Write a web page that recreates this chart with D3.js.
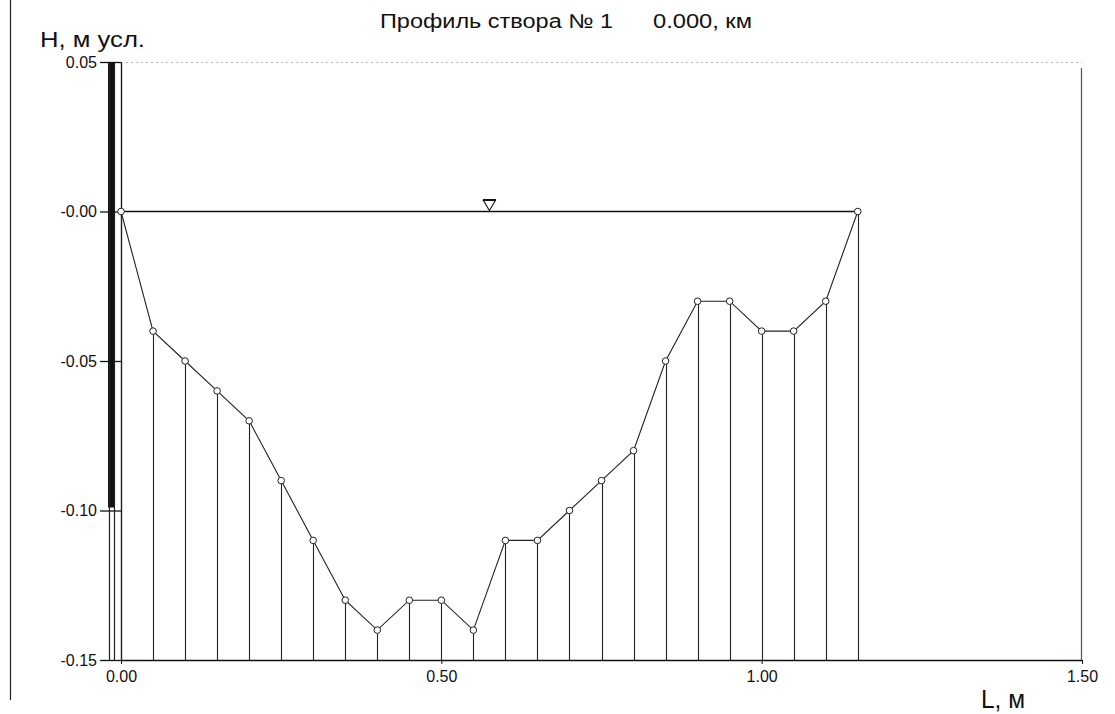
<!DOCTYPE html>
<html>
<head>
<meta charset="utf-8">
<script src="https://cdn.jsdelivr.net/npm/d3@7"></script>
<style>
  html, body { margin: 0; padding: 0; background: #fff; }
  svg { display: block; }
  text { font-family: "Liberation Sans", Arial, sans-serif; fill: #111; }
</style>
</head>
<body>
<svg id="chart" width="1115" height="714"></svg>
<script>
// Cross-section survey: distance along the section (m) and bed elevation (m, relative)
const distances = [0.00, 0.05, 0.10, 0.15, 0.20, 0.25, 0.30, 0.35, 0.40, 0.45, 0.50, 0.55,
                   0.60, 0.65, 0.70, 0.75, 0.80, 0.85, 0.90, 0.95, 1.00, 1.05, 1.10, 1.15];
const elevations = [0.00, -0.04, -0.05, -0.06, -0.07, -0.09, -0.11, -0.13, -0.14, -0.13, -0.13, -0.14,
                    -0.11, -0.11, -0.10, -0.09, -0.08, -0.05, -0.03, -0.03, -0.04, -0.04, -0.03, 0.00];
const waterLevel = 0.00;

const yTickValues = [0.05, 0.00, -0.05, -0.10, -0.15];
const yTickLabels = ["0.05", "-0.00", "-0.05", "-0.10", "-0.15"];
const xTickValues = [0.00, 0.50, 1.00, 1.50];
const xTickLabels = ["0.00", "0.50", "1.00", "1.50"];

const titleMain = "Профиль створа  № 1";
const titleKm = "0.000, км";
const yTitle = "Н, м усл.";
const xTitle = "L, м";

const svg = d3.select("#chart");
const plotLeft = 121, plotRight = 1082, plotTop = 62, plotBottom = 660;

const x = d3.scaleLinear().domain([0, 1.5]).range([plotLeft, plotRight]);
const y = d3.scaleLinear().domain([-0.15, 0.05]).range([plotBottom, plotTop]);

// page frame line on the left
svg.append("line").attr("x1", 10.5).attr("x2", 10.5).attr("y1", 0).attr("y2", 700)
  .attr("stroke", "#222").attr("stroke-width", 1.2);

// faint dotted top border of the plot
svg.append("line").attr("x1", plotLeft).attr("x2", plotRight)
  .attr("y1", plotTop + 0.5).attr("y2", plotTop + 0.5)
  .attr("stroke", "#bbb").attr("stroke-width", 1).attr("stroke-dasharray", "2,3");

// right border
svg.append("line").attr("x1", plotRight - 0.5).attr("x2", plotRight - 0.5)
  .attr("y1", plotTop + 6).attr("y2", plotBottom)
  .attr("stroke", "#555").attr("stroke-width", 1.2);

// left bank marker: heavy bar with thin legs
svg.append("rect").attr("x", plotLeft - 13).attr("y", plotTop).attr("width", 6)
  .attr("height", y(-0.099) - plotTop).attr("fill", "#111");
[plotLeft - 11.5, plotLeft - 6.5].forEach(px => {
  svg.append("line").attr("x1", px).attr("x2", px).attr("y1", plotTop).attr("y2", plotBottom)
    .attr("stroke", "#222").attr("stroke-width", 1.2);
});

// axes
const yAxis = d3.axisLeft(y)
  .tickValues(yTickValues)
  .tickFormat((d, i) => yTickLabels[i])
  .tickSize(21).tickPadding(3).tickSizeOuter(0);
const gy = svg.append("g").attr("transform", `translate(${plotLeft},0)`).call(yAxis);
gy.select(".domain").attr("stroke", "#111").attr("stroke-width", 1.3);
gy.selectAll(".tick line").attr("stroke", "#111").attr("stroke-width", 1.3);
gy.selectAll(".tick text").attr("font-size", 16).attr("fill", "#333")
  .attr("font-family", "Liberation Sans, Arial, sans-serif");

const xAxis = d3.axisBottom(x)
  .tickValues(xTickValues)
  .tickFormat((d, i) => xTickLabels[i])
  .tickSize(4).tickPadding(7).tickSizeOuter(0);
const gx = svg.append("g").attr("transform", `translate(0,${plotBottom})`).call(xAxis);
gx.select(".domain").attr("stroke", "#111").attr("stroke-width", 1.4);
gx.selectAll(".tick line").attr("stroke", "#111");
gx.selectAll(".tick text").attr("font-size", 16).attr("fill", "#333")
  .attr("font-family", "Liberation Sans, Arial, sans-serif");

const pts = distances.map((d, i) => ({ d, h: elevations[i] }));

// verticals from each survey point down to the base
svg.append("g").selectAll("line").data(pts).join("line")
  .attr("x1", p => Math.round(x(p.d)) + 0.5)
  .attr("x2", p => Math.round(x(p.d)) + 0.5)
  .attr("y1", p => y(p.h))
  .attr("y2", plotBottom)
  .attr("stroke", "#222").attr("stroke-width", 1.1);

// water surface
const wetEdges = d3.extent(pts.filter(p => p.h >= waterLevel), p => p.d);
svg.append("line")
  .attr("x1", x(wetEdges[0])).attr("x2", x(wetEdges[1]))
  .attr("y1", y(waterLevel)).attr("y2", y(waterLevel))
  .attr("stroke", "#111").attr("stroke-width", 1.6);

// water level symbol at the middle of the surface
const mx = x((wetEdges[0] + wetEdges[1]) / 2), wy = y(waterLevel);
svg.append("path")
  .attr("d", `M${mx - 6},${wy - 11} L${mx + 6},${wy - 11} L${mx},${wy - 1} Z`)
  .attr("fill", "#fff").attr("stroke", "#111").attr("stroke-width", 1.1);
svg.append("line").attr("x1", mx - 6.5).attr("x2", mx + 6.5)
  .attr("y1", wy - 11.5).attr("y2", wy - 11.5).attr("stroke", "#111").attr("stroke-width", 2);

// bed profile
svg.append("path").datum(pts)
  .attr("d", d3.line().x(p => x(p.d)).y(p => y(p.h)))
  .attr("fill", "none").attr("stroke", "#222").attr("stroke-width", 1.1);

svg.append("g").selectAll("circle").data(pts).join("circle")
  .attr("cx", p => x(p.d)).attr("cy", p => y(p.h)).attr("r", 3.3)
  .attr("fill", "#fff").attr("stroke", "#222").attr("stroke-width", 1);

// titles
svg.append("text").attr("x", 380).attr("y", 28).attr("font-size", 20)
  .attr("textLength", 233).attr("lengthAdjust", "spacingAndGlyphs").attr("fill", "#333")
  .text(titleMain);
svg.append("text").attr("x", 653).attr("y", 28).attr("font-size", 20)
  .attr("textLength", 99).attr("lengthAdjust", "spacingAndGlyphs").attr("fill", "#333")
  .text(titleKm);

svg.append("text").attr("x", 40).attr("y", 47).attr("font-size", 22)
  .attr("textLength", 105).attr("lengthAdjust", "spacingAndGlyphs")
  .text(yTitle);
svg.append("text").attr("x", 981).attr("y", 708).attr("font-size", 25)
  .attr("textLength", 44).attr("lengthAdjust", "spacingAndGlyphs")
  .text(xTitle);
</script>
</body>
</html>
